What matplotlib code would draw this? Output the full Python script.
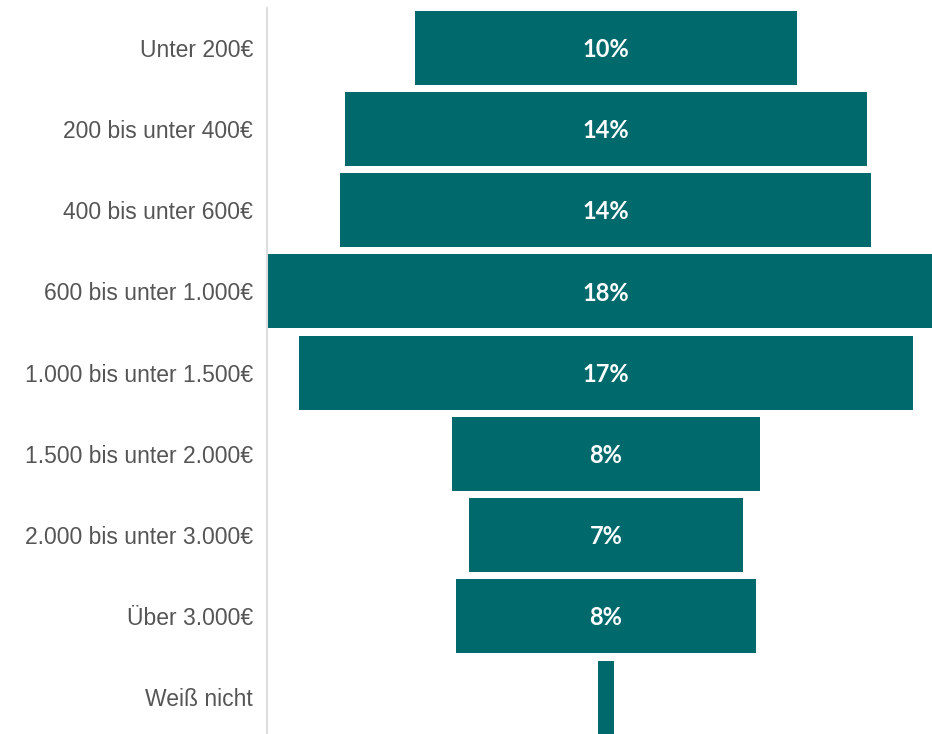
import matplotlib
matplotlib.use('Agg')
import matplotlib.pyplot as plt

# ── Data ──────────────────────────────────────────────────────────
categories = ["Unter 200€", "200 bis unter 400€", "400 bis unter 600€",
              "600 bis unter 1.000€", "1.000 bis unter 1.500€",
              "1.500 bis unter 2.000€", "2.000 bis unter 3.000€",
              "Über 3.000€", "Weiß nicht"]
shares = [10.3, 14.1, 14.35, 18.3, 16.6, 8.3, 7.4, 8.1, 0.43]
labels = ["10%", "14%", "14%", "18%", "17%", "8%", "7%", "8%", ""]

TEAL = "#00696B"

# ── Figure ────────────────────────────────────────────────────────
fig = plt.figure(figsize=(9.32, 7.34), dpi=100)
ax = fig.add_axes([267 / 932, 0, 1 - 267 / 932, 1 - 8 / 734])

ypos = list(range(len(categories)))
lefts = [-v / 2 for v in shares]
ax.barh(ypos, shares, left=lefts, height=0.91, color=TEAL)

for y, lbl in zip(ypos, labels):
    ax.text(0, y + 0.02, lbl, ha='center', va='center', color='white',
            fontsize=17, fontweight='bold', family='Lato')

ax.set_yticks(ypos)
ax.set_yticklabels(categories, fontsize=16.5, color='#555555',
                   family='Liberation Sans')
ax.tick_params(axis='y', length=0, pad=10)
ax.set_xticks([])

ax.set_xlim(-9.16, 8.81)
ax.set_ylim(8.45, -0.49)

for s in ['top', 'right', 'bottom']:
    ax.spines[s].set_visible(False)
ax.spines['left'].set_color('#dddddd')
ax.spines['left'].set_linewidth(1.5)

plt.savefig('out.png', dpi=100)
plt.close()
